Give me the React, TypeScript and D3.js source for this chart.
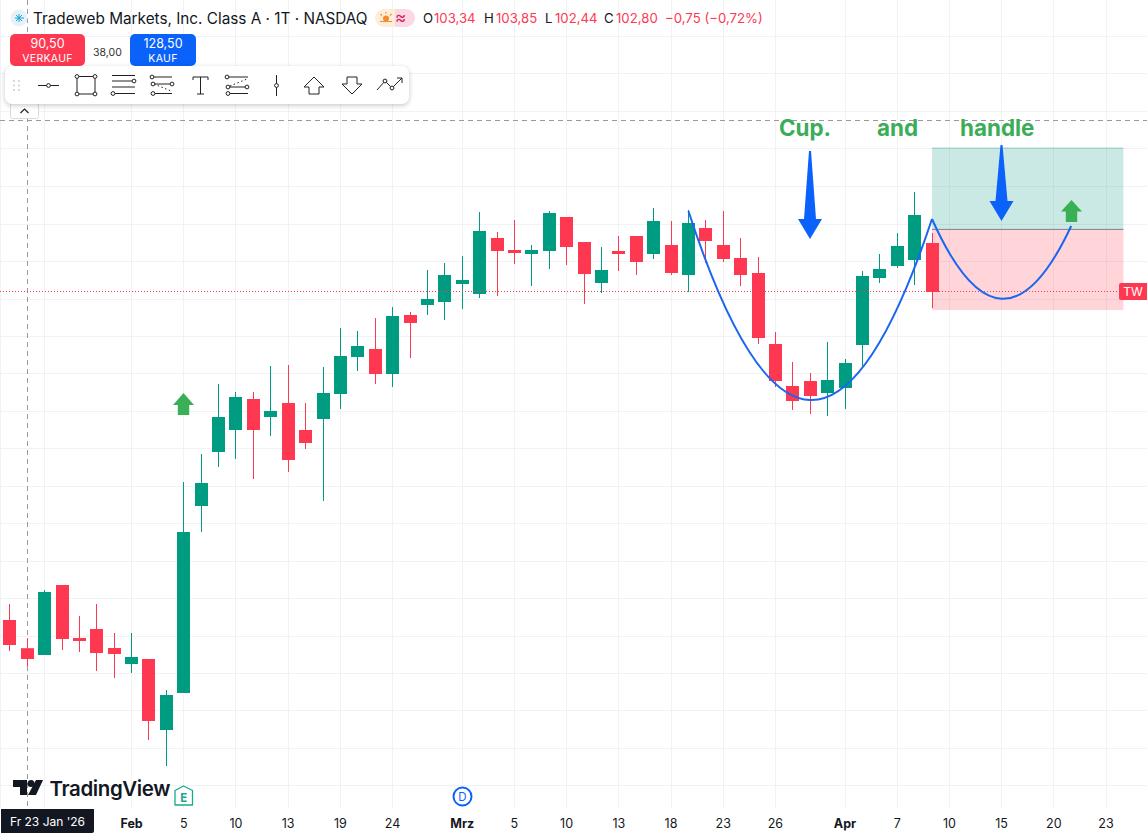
import React from "react";
import * as d3 from "d3";

const WIDTH = 1147;
const HEIGHT = 836;

const opens = [104.75,103.34,103.00,106.50,103.85,104.30,103.35,102.55,102.80,99.25,101.10,110.45,113.15,114.25,115.80,114.90,115.60,114.25,114.80,116.05,117.90,118.30,117.05,120.00,120.50,120.65,121.55,121.05,123.85,123.25,123.05,123.20,124.90,123.65,121.60,123.20,123.95,123.05,123.50,122.00,124.35,123.50,122.85,122.10,118.55,116.45,116.70,116.10,116.35,118.50,121.85,122.45,122.75,123.60];
const highs = [105.55,103.85,106.25,106.50,104.95,105.55,104.10,104.10,102.80,101.25,111.65,113.05,116.55,116.15,116.15,117.45,117.50,115.60,117.40,119.35,119.20,119.85,120.40,120.15,122.25,122.60,122.95,125.15,124.15,124.75,123.50,125.20,124.90,123.65,123.40,123.95,123.95,125.35,124.70,125.25,124.75,125.20,123.85,122.90,119.15,117.65,117.10,118.65,117.80,122.20,123.05,124.10,126.15,124.10];
const lows = [103.20,102.44,103.00,103.25,103.15,102.20,101.85,102.10,98.75,97.45,101.10,109.15,112.40,112.80,111.80,113.95,112.15,113.30,110.70,115.30,117.20,116.55,116.40,117.85,120.00,119.75,120.30,120.85,120.95,122.55,121.45,122.30,122.50,120.55,121.10,122.20,122.00,122.80,122.00,121.15,122.60,122.65,121.45,118.55,116.40,115.25,115.05,114.95,115.30,117.45,121.60,122.35,121.50,120.35];
const closes = [103.50,102.80,106.15,103.80,103.70,103.10,103.05,102.90,99.70,101.00,109.15,111.60,114.90,115.90,114.25,115.20,112.75,113.60,116.10,117.95,118.45,117.05,119.95,119.60,120.80,122.00,121.75,124.20,123.20,123.10,123.25,125.10,123.40,122.05,122.25,123.05,122.65,124.70,122.10,124.60,123.70,122.80,122.00,118.85,116.70,115.70,115.95,116.75,117.60,121.95,122.30,123.45,125.00,121.15];

const tickIndex = [7, 10, 13, 16, 19, 22, 26, 29, 32, 35, 38, 41, 44, 48, 51, 54, 57, 60, 63];
const tickLabels = ["Feb", "5", "10", "13", "19", "24", "Mrz", "5", "10", "13", "18", "23", "26", "Apr", "7", "10", "15", "20", "23"];
const boldTicks = ["Feb", "Mrz", "Apr"];
const extraGridIndex = [2];
const gridPrices = [133.93,132.05,130.18,128.30,126.40,124.53,122.68,120.78,118.93,117.08,115.18,113.33,111.45,109.58,107.68,105.83,103.93,102.08,100.23,98.35,96.48];

const lastPrice = 121.15;
const crosshairPrice = 129.72;
const crosshairIndex = 1;
const positionTop = 128.35;
const positionEntry = 124.28;
const positionStop = 120.25;
const positionStartIndex = 53;
const positionEndIndex = 64;

const cupCurve = [[39, 125.2], [46, 106.5], [53, 124.8]];
const handleCurve = [[53, 124.8], [57, 117.0], [61, 124.45]];

const RED = "#fe3850";
const GREEN = "#009c82";
const BLUE = "#0a62fb";
const ARROW_GREEN = "#3aaf55";
const GRID = "#f1f2f4";
const FONT = "Inter, 'Noto Sans', sans-serif";

const x = d3.scaleLinear().domain([0, 63]).range([9.8, 1106]);
const y = d3.scaleLinear().domain([135.75, 135.75 - HEIGHT / 20]).range([0, HEIGHT]);
const snap = (v: number) => Math.floor(v) + 0.5;

function curvePath(points: number[][]) {
  const p = d3.path();
  const [a, c, b] = points;
  p.moveTo(x(a[0]), y(a[1]));
  p.quadraticCurveTo(x(c[0]), y(c[1]), x(b[0]), y(b[1]));
  return p.toString();
}

function DownArrow({ cx, top, tip, base }: { cx: number; top: number; tip: number; base: number }) {
  const d = `M${cx - 1},${top} L${cx + 1},${top} L${cx + 6},${base} L${cx + 12},${base} L${cx},${tip} L${cx - 12},${base} L${cx - 6},${base} Z`;
  return <path d={d} fill={BLUE} />;
}

function UpArrow({ cx, tip, base, bottom }: { cx: number; tip: number; base: number; bottom: number }) {
  const d = `M${cx},${tip} L${cx + 10.5},${base} L${cx + 5.7},${base} L${cx + 5.7},${bottom} L${cx - 5.7},${bottom} L${cx - 5.7},${base} L${cx - 10.5},${base} Z`;
  return <path d={d} fill={ARROW_GREEN} />;
}

function Dot({ cx, cy }: { cx: number; cy: number }) {
  return <circle cx={cx} cy={cy} r={1.9} fill="#fff" stroke="#222" strokeWidth={1} />;
}

function Seg({ a, b, c, e, dash }: { a: number; b: number; c: number; e: number; dash?: string }) {
  return <line x1={a} y1={b} x2={c} y2={e} stroke="#222" strokeWidth={1} strokeDasharray={dash} />;
}

function Toolbar() {
  return (
    <g>
      <rect x={5} y={66} width={404} height={38} rx={7} fill="#000" opacity={0.22} transform="translate(0,1.5)" style={{ filter: "blur(2.5px)" }} />
      <rect x={5} y={66} width={404} height={38} rx={7} fill="#fff" />
      {[14, 19].map((cx) => [81, 85.5, 90].map((cy) => <circle key={`${cx}-${cy}`} cx={cx} cy={cy} r={1} fill="#c9ccd2" />))}
      <Seg a={38} b={85.5} c={59} e={85.5} /><Dot cx={48.5} cy={85.5} />
      <rect x={77} y={76.5} width={18} height={17.5} fill="none" stroke="#222" /><Dot cx={77} cy={76.5} /><Dot cx={95} cy={76.5} /><Dot cx={77} cy={94} /><Dot cx={95} cy={94} />
      <Seg a={112} b={75.5} c={135} e={75.5} /><Seg a={112} b={81} c={132} e={81} /><Seg a={112} b={87} c={135} e={87} /><Seg a={115} b={93.5} c={135} e={93.5} /><Dot cx={134} cy={81} /><Dot cx={113} cy={93.5} />
      <Seg a={152} b={77} c={172} e={77} /><Seg a={152} b={84} c={172} e={84} /><Seg a={152} b={93.5} c={172} e={93.5} /><Seg a={154} b={84} c={171} e={91} dash="1.5 2.5" /><Dot cx={152} cy={77} /><Dot cx={172} cy={84} /><Dot cx={153} cy={84} /><Dot cx={153} cy={93.5} />
      <Seg a={193} b={77} c={208} e={77} /><Seg a={200.5} b={77} c={200.5} e={94} /><Seg a={197} b={94} c={204} e={94} /><Seg a={193} b={77} c={193} e={80} /><Seg a={208} b={77} c={208} e={80} />
      <Seg a={227} b={77} c={248} e={77} /><Seg a={227} b={87} c={248} e={87} /><Seg a={227} b={93.5} c={248} e={93.5} /><Seg a={230} b={86} c={247} e={79} dash="1.5 2.5" /><Dot cx={227} cy={77} /><Dot cx={247} cy={87} /><Dot cx={228} cy={87} /><Dot cx={228} cy={93.5} />
      <Seg a={276.5} b={75} c={276.5} e={96} /><Dot cx={276.5} cy={85.5} />
      <path d="M314,77 L324,87 L319,87 L319,94 L309,94 L309,87 L304,87 Z" fill="none" stroke="#222" />
      <path d="M347,77 L357,77 L357,84 L362,84 L352,94 L342,84 L347,84 Z" fill="none" stroke="#222" />
      <path d="M377,90 L385,81 L392,88 L402,78 M397,78 L402,78 L402,83" fill="none" stroke="#222" /><Dot cx={385} cy={81} /><Dot cx={392} cy={88} />
    </g>
  );
}

const ohlcLetters = ["O", "H", "L", "C"];
const ohlcValues = ["103,34", "103,85", "102,44", "102,80"];
const changeLabel = "−0,75 (−0,72%)";

function Header() {
  const letterX = [423, 484, 545, 604];
  const valueX = [434, 496, 555, 616];
  return (
    <g fontFamily={FONT}>
      <circle cx={19} cy={18} r={8.5} fill="#e8f1f8" />
      <path d="M15,18 L24,18 M19,14 L19,22 M16,15 L22,21 M16,21 L22,15" stroke="#12a7d8" strokeWidth={1} />
      <text x={33} y={24} fontSize={15.3} fill="#131722">Tradeweb Markets, Inc. Class A · 1T · NASDAQ</text>
      <path d="M384,9 L395,9 L395,27 L384,27 A9,9 0 0 1 384,9 Z" fill="#fdeeda" />
      <path d="M395,9 L406,9 A9,9 0 0 1 406,27 L395,27 Z" fill="#fbd8e2" />
      <circle cx={386} cy={18.5} r={3} fill="#f58a2e" />
      <path d="M380,21.5 L392,21.5 M386,12 L386,13.5 M380.5,14 L382,15.5 M391.5,14 L390,15.5" stroke="#f58a2e" strokeWidth={1.2} />
      <text x={400.5} y={23} fontSize={17} fill="#d8245f" textAnchor="middle">≈</text>
      {ohlcLetters.map((l, k) => (
        <g key={l} fontSize={13.2}>
          <text x={letterX[k]} y={23} fill="#131722">{l}</text>
          <text x={valueX[k]} y={23} fill={RED}>{ohlcValues[k]}</text>
        </g>
      ))}
      <text x={665} y={23} fontSize={13.2} fill={RED}>{changeLabel}</text>
      <rect x={10} y={34} width={75} height={32} rx={5} fill={RED} />
      <text x={47.5} y={48} fontSize={12.5} fill="#fff" textAnchor="middle">90,50</text>
      <text x={47.5} y={62} fontSize={10.5} fill="#fff" textAnchor="middle" letterSpacing={0.3}>VERKAUF</text>
      <text x={107.5} y={56} fontSize={10.5} fill="#333" textAnchor="middle">38,00</text>
      <rect x={130} y={34} width={66} height={32} rx={5} fill={BLUE} />
      <text x={163} y={48} fontSize={12.5} fill="#fff" textAnchor="middle">128,50</text>
      <text x={163} y={62} fontSize={10.5} fill="#fff" textAnchor="middle" letterSpacing={0.3}>KAUF</text>
    </g>
  );
}

export default function App() {
  const candles = opens.map((o, i) => ({ i, o, h: highs[i], l: lows[i], c: closes[i] }));
  const gridIdx = [...tickIndex, ...extraGridIndex];
  const posX0 = x(positionStartIndex);
  const posX1 = x(positionEndIndex);
  return (
    <svg width={WIDTH} height={HEIGHT} style={{ position: "absolute", left: 0, top: 0, display: "block", background: "#fff" }}>
      <line x1={0.5} x2={0.5} y1={0} y2={808} stroke={GRID} />
      {gridPrices.map((p) => (
        <line key={p} x1={0} x2={WIDTH} y1={snap(y(p))} y2={snap(y(p))} stroke={GRID} />
      ))}
      {gridIdx.map((i) => (
        <line key={i} x1={snap(x(i))} x2={snap(x(i))} y1={0} y2={808} stroke={GRID} />
      ))}

      <rect x={posX0} y={y(positionTop)} width={posX1 - posX0} height={y(positionEntry) - y(positionTop)} fill="#089981" fillOpacity={0.21} />
      <line x1={posX0} x2={posX1} y1={y(positionTop)} y2={y(positionTop)} stroke="#089981" strokeOpacity={0.35} />
      <rect x={posX0} y={y(positionEntry)} width={posX1 - posX0} height={y(positionStop) - y(positionEntry)} fill={RED} fillOpacity={0.21} />
      <line x1={posX0} x2={posX1} y1={y(positionEntry)} y2={y(positionEntry)} stroke="#808080" />

      <line x1={0} x2={WIDTH} y1={snap(y(crosshairPrice))} y2={snap(y(crosshairPrice))} stroke="#9a9a9a" strokeDasharray="5 4" />
      <line x1={snap(x(crosshairIndex))} x2={snap(x(crosshairIndex))} y1={0} y2={808} stroke="#9a9a9a" strokeDasharray="5 4" />

      {candles.map((d) => {
        const color = d.c < d.o ? RED : GREEN;
        const cx = snap(x(d.i));
        const top = y(Math.max(d.o, d.c));
        const bottom = y(Math.min(d.o, d.c));
        return (
          <g key={d.i}>
            <line x1={cx} x2={cx} y1={y(d.h)} y2={y(d.l)} stroke={color} />
            <rect x={cx - 6.5} y={top} width={13} height={Math.max(bottom - top, 1)} fill={color} />
          </g>
        );
      })}

      <line x1={0} x2={1120} y1={snap(y(lastPrice))} y2={snap(y(lastPrice))} stroke={RED} strokeDasharray="1 2" />

      <path d={curvePath(cupCurve)} fill="none" stroke="#1a66f0" strokeWidth={2} />
      <path d={curvePath(handleCurve)} fill="none" stroke="#1a66f0" strokeWidth={2} />

      <DownArrow cx={810} top={151} tip={239} base={219} />
      <DownArrow cx={1001.5} top={145} tip={221} base={201} />
      <UpArrow cx={1071.5} tip={200} base={211.5} bottom={222} />
      <UpArrow cx={183.5} tip={393} base={405} bottom={415} />

      <g fontFamily={FONT} fontSize={22.4} fontWeight={700} fill="#3bac57">
        <text x={779} y={136}>Cup.</text>
        <text x={877} y={136}>and</text>
        <text x={960} y={136}>handle</text>
      </g>

      <path d="M1121,283 L1147,283 L1147,300 L1121,300 A2,2 0 0 1 1119,298 L1119,285 A2,2 0 0 1 1121,283 Z" fill={RED} />
      <text x={1133} y={296} fontFamily={FONT} fontSize={12} fill="#fff" textAnchor="middle">TW</text>

      <Header />
      <rect x={10.5} y={103.5} width={28} height={15} rx={2} fill="#fff" stroke="#d9dbe0" />
      <path d="M20.5,113 L24.5,109 L28.5,113" fill="none" stroke="#222" strokeWidth={1.2} />
      <Toolbar />

      <g fill="#131722">
        <path d="M13,780 L27,780 L27,795 L20,795 L20,787 L13,787 Z" />
        <circle cx={31} cy={783.5} r={3.5} />
        <path d="M36,780 L43,780 L36,795 L28,795 Z" />
        <text x={49.5} y={795.5} fontFamily={FONT} fontSize={20.5} fontWeight={600} letterSpacing={-0.4}>TradingView</text>
      </g>

      <path d="M175,790.5 L183.5,786 L192.5,790.5 L192.5,805 L175,805 Z" fill="#fff" stroke="#1aa88f" strokeWidth={1.3} strokeLinejoin="round" />
      <text x={183.7} y={801.5} fontFamily={FONT} fontSize={11.5} fontWeight={700} fill="#1aa88f" textAnchor="middle">E</text>
      <circle cx={462.5} cy={796.5} r={9} fill="#fff" stroke={BLUE} strokeWidth={2} />
      <text x={462.5} y={801} fontFamily={FONT} fontSize={11.5} fill={BLUE} textAnchor="middle">D</text>

      <g fontFamily={FONT} fontSize={12.5} fill="#131722" textAnchor="middle">
        {tickIndex.map((i, k) => (
          <text key={i} x={x(i)} y={828} fontWeight={boldTicks.includes(tickLabels[k]) ? 700 : 400}>{tickLabels[k]}</text>
        ))}
      </g>
      <path d="M1,809 L94,809 L94,831 A2,2 0 0 1 92,833 L1,833 Z" fill="#131722" />
      <text x={47.5} y={826} fontFamily={FONT} fontSize={12} fill="#fff" textAnchor="middle">Fr 23 Jan '26</text>
    </svg>
  );
}
